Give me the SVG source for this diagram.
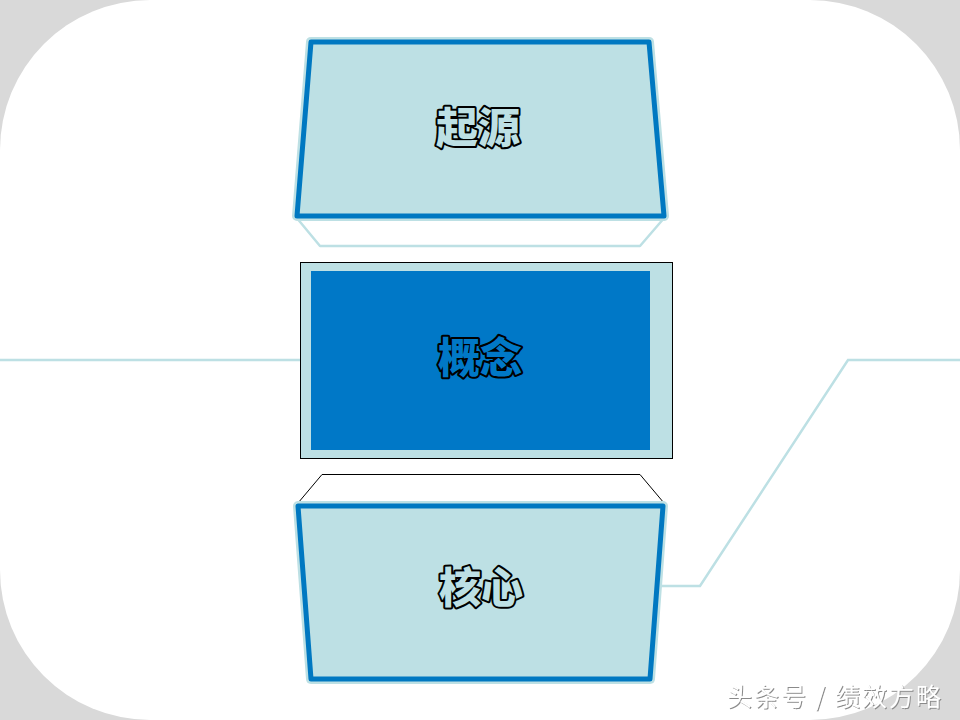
<svg xmlns="http://www.w3.org/2000/svg" width="960" height="720" viewBox="0 0 960 720">
<defs>
<style>
.conn{fill:none;stroke:#bde0e4;stroke-width:2.5}
.face{fill:#bde0e4;stroke:#0078c1;stroke-width:5;stroke-linejoin:round}
.halo{fill:none;stroke:#bde0e4;stroke-width:10;stroke-linejoin:round}
.lbl{font-family:"Noto Sans CJK SC","Noto Sans",sans-serif;font-weight:900;font-size:42px;text-anchor:middle;stroke:#000;stroke-width:4;paint-order:stroke;stroke-linejoin:round}
.wm{font-family:"Noto Sans CJK SC","Noto Sans",sans-serif;font-size:25px;letter-spacing:2px;fill:#fff;filter:url(#sh)}
</style>
<filter id="sh" x="-10%" y="-30%" width="120%" height="160%">
<feDropShadow dx="1" dy="1" stdDeviation="0.6" flood-color="#8a8a8a" flood-opacity="1"/>
</filter>
</defs>
<rect width="960" height="720" fill="#d9d9d9"/>
<rect width="960" height="720" rx="150" ry="150" fill="#ffffff"/>
<g id="connectors">
<path class="conn" d="M0 360 H300"/>
<path class="conn" d="M660 586 H700 L848 360 H960"/>
</g>
<g id="node-origin">
<path d="M296 217 L320 246 H640 L665 217 Z" fill="#fff" stroke="#bde0e4" stroke-width="2.5" stroke-linejoin="round"/>
<path class="halo" d="M311 42 H649 L664 216 H297 Z"/>
<path class="face" d="M311 42 H649 L664 216 H297 Z"/>
<text class="lbl" x="478" y="143" fill="#bde0e4">起源</text>
</g>
<g id="node-concept">
<rect x="300.5" y="262.5" width="372" height="196" fill="#bde0e4" stroke="#000" stroke-width="1"/>
<rect x="311" y="271" width="339" height="179" fill="#0078c7"/>
<text class="lbl" x="480" y="373" fill="#0078c7">概念</text>
</g>
<g id="node-core">
<path d="M298 503 L322 474.5 H640 L664 503 Z" fill="#fff" stroke="#000" stroke-width="1" stroke-linejoin="round"/>
<path class="halo" d="M298 506 H663 L650 679 H311 Z"/>
<path class="face" d="M298 506 H663 L650 679 H311 Z"/>
<text class="lbl" x="481" y="603" fill="#bde0e4">核心</text>
</g>
<text class="wm" x="727" y="706">头条号 / 绩效方略</text>
</svg>
